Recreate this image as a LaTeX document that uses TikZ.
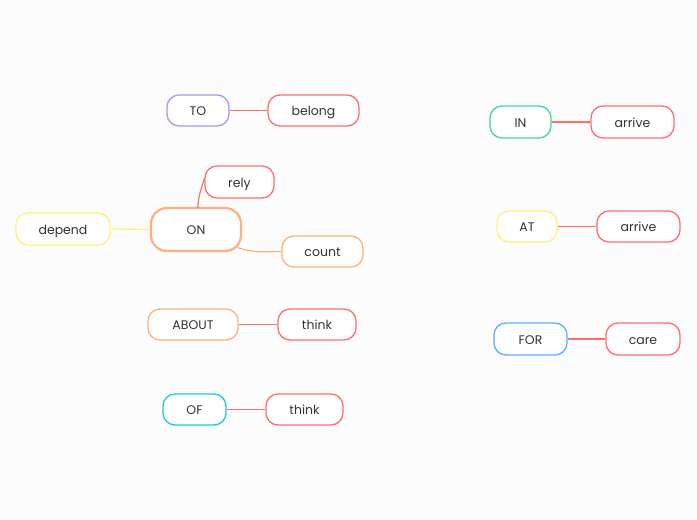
\documentclass[tikz,border=0pt]{standalone}
\usepackage{fontspec}
\setmainfont{Poppins}
\definecolor{cred}{HTML}{FF6E6E}
\definecolor{cpurple}{HTML}{9E9BFF}
\definecolor{corange}{HTML}{FFB07E}
\definecolor{cyellow}{HTML}{FFF07E}
\definecolor{cgreen}{HTML}{3FD6A2}
\definecolor{cteal}{HTML}{1ECBD6}
\definecolor{cblue}{HTML}{58B0FF}
\definecolor{cbg}{HTML}{FCFCFC}
\definecolor{ctext}{HTML}{333333}
\tikzset{
  pill/.style={draw=#1, line width=1.3pt, fill=white, rounded corners=12pt, inner sep=0pt, minimum height=31pt, text=ctext, font=\fontsize{12.5}{14}\selectfont, text height=10.5pt, text depth=0pt},
  link/.style={draw=#1, line width=1.2pt}
}
\begin{document}
\begin{tikzpicture}[x=1pt,y=-1pt]
\fill[cbg] (0,0) rectangle (697,520);
\useasboundingbox (0,0) rectangle (697,520);
\node[pill=cpurple, minimum width=62pt] (to) at (198,110.5) {TO};
\node[pill=cred, minimum width=91pt] (belong) at (313.5,110.5) {belong};
\node[pill=corange, minimum width=90pt, minimum height=43pt, rounded corners=16pt, line width=2.2pt] (on) at (196,229.5) {ON};
\node[pill=cred, minimum width=69pt, minimum height=32pt] (rely) at (239.5,182) {rely};
\node[pill=cyellow, minimum width=94pt, minimum height=32pt] (depend) at (63,229) {depend};
\node[pill=corange, minimum width=81pt] (count) at (322.5,251.5) {count};
\node[pill=corange, minimum width=90pt] (about) at (193,324.5) {ABOUT};
\node[pill=cred, minimum width=78pt] (think1) at (317,324.5) {think};
\node[pill=cteal, minimum width=63pt] (of) at (194.5,409.5) {OF};
\node[pill=cred, minimum width=77pt] (think2) at (304.5,409.5) {think};
\node[pill=cgreen, minimum width=61pt, minimum height=32pt] (in) at (520.5,122) {IN};
\node[pill=cred, minimum width=83pt, minimum height=32pt] (arrive1) at (632.5,122) {arrive};
\node[pill=cyellow, minimum width=60pt] (at) at (527,226.5) {AT};
\node[pill=cred, minimum width=83pt] (arrive2) at (638.5,226.5) {arrive};
\node[pill=cblue, minimum width=73pt, minimum height=32pt] (for) at (530.5,339) {FOR};
\node[pill=cred, minimum width=74pt, minimum height=32pt] (care) at (643,339) {care};
\draw[link=cred] (to.east) -- (belong.west);
\draw[link=cyellow] (depend.east) -- (on.west);
\draw[link=cred] ([xshift=2pt,yshift=-1pt]on.north) .. controls +(0,-14) and +(-1,6) .. ([yshift=4pt]rely.west);
\draw[link=corange] ([xshift=-4.7pt,yshift=4.7pt]on.south east) .. controls +(15,6) and +(-15,0) .. (count.west);
\draw[link=cred] (about.east) -- (think1.west);
\draw[link=cred] (of.east) -- (think2.west);
\draw[link=cred] (in.east) -- (arrive1.west);
\draw[link=cred] (at.east) -- (arrive2.west);
\draw[link=cred] (for.east) -- (care.west);
\end{tikzpicture}
\end{document}
